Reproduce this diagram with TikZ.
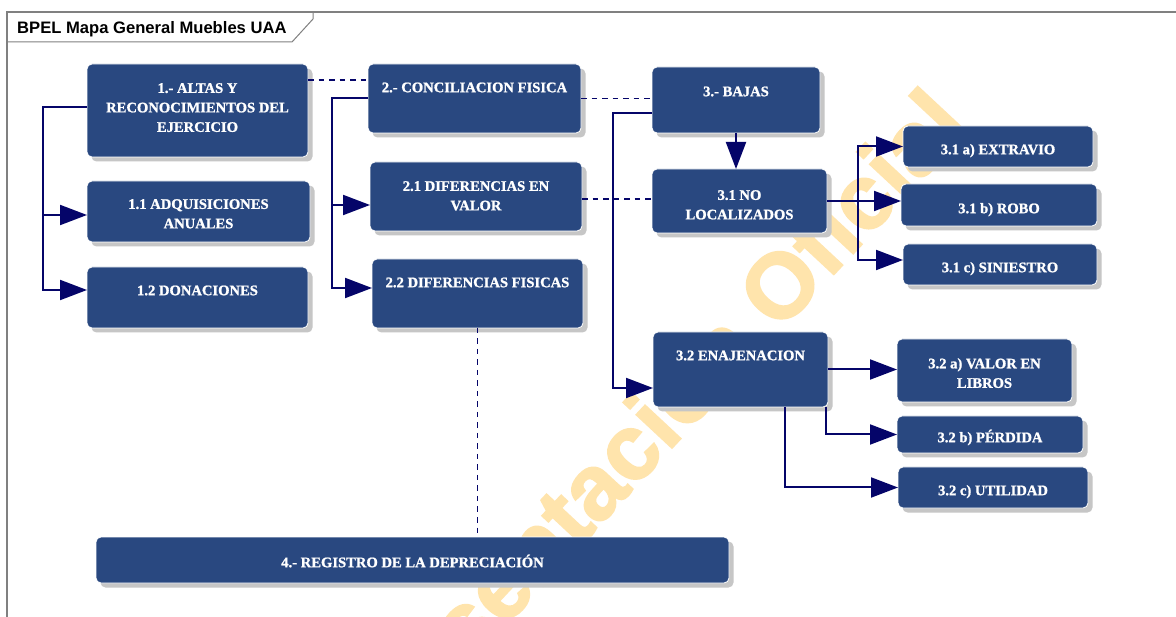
\documentclass[tikz,border=0pt]{standalone}
\usepackage{fontspec}
\setmainfont{Liberation Serif}
\newfontfamily\boxfont{Liberation Serif}[BoldFeatures={FakeBold=1.2}]
\newfontfamily\titlefont{Liberation Sans}
\newfontfamily\wmfont{Liberation Sans}[BoldFeatures={FakeBold=2}]
\usetikzlibrary{arrows.meta,shadows,calc}
\definecolor{boxblue}{RGB}{41,72,128}
\definecolor{navy}{RGB}{5,5,105}
\definecolor{wmorange}{RGB}{255,228,172}
\definecolor{framegray}{RGB}{128,128,128}
\tikzset{
 ubox/.style={draw=white, line width=0.8pt, fill=boxblue, rounded corners=5pt, outer sep=0pt, inner sep=0pt,
   drop shadow={shadow xshift=4.5pt, shadow yshift=-4.5pt, fill=gray!45, opacity=1}},
 utext/.style={anchor=north, inner sep=0pt, text=white, align=center,
   font=\boxfont\fontsize{14.6}{19.5}\selectfont\bfseries, execute at begin node={\rule{0pt}{14pt}}},
 conn/.style={draw=navy, line width=2pt},
 arr/.style={-{Triangle[length=27pt,width=20pt]}},
 link/.style={draw=navy, line width=1.9pt, dash pattern=on 5.5pt off 5pt},
}
\newcommand\ubx[7]{%
  \node[ubox, minimum width={#4-#2}, minimum height={#5-#3}] (#1) at ({(#2+#4)/2},{(#3+#5)/2}) {};
  \node[utext] (#1t) at ({(#2+#4)/2},{#6-14}) {#7};
}
\begin{document}
\begin{tikzpicture}[x=1pt,y=-1pt]
\useasboundingbox (0,0) rectangle (1176,617);
\fill[white] (0,0) rectangle (1176,617);
% watermark
\begin{scope}
\clip (0,0) rectangle (1176,617);
\node[rotate=47, text=wmorange, inner sep=0pt, font=\wmfont\fontsize{92}{92}\selectfont\bfseries] (wm) at (645,428) {Presentación Oficial};
\end{scope}
% frame
\draw[framegray, line width=1.3pt] (1176,12) -- (7,12) -- (7,617);
\draw[framegray, line width=1pt] (7,42) -- (292,42) -- (313,19) -- (313,12);
\node[anchor=base west, inner sep=0pt, font=\titlefont\fontsize{16.6}{18}\selectfont\bfseries] (title) at (17,33.3) {BPEL Mapa General Muebles UAA};
% boxes
\ubx{b1}{87}{64}{308}{157}{97}{1.- ALTAS Y\\RECONOCIMIENTOS DEL\\EJERCICIO}
\ubx{b11}{87}{181}{310}{242}{213}{1.1 ADQUISICIONES\\ANUALES}
\ubx{b12}{87}{267}{308}{328}{295}{1.2 DONACIONES}
\ubx{b2}{368}{64}{581}{133}{92}{2.- CONCILIACION FISICA}
\ubx{b21}{370}{162}{582}{231}{195}{2.1 DIFERENCIAS EN\\VALOR}
\ubx{b22}{372}{259}{583}{328}{287}{2.2 DIFERENCIAS FISICAS}
\ubx{b3}{652}{67}{820}{133}{96}{3.- BAJAS}
\ubx{b31}{652}{169}{827}{233}{204}{3.1 NO\\LOCALIZADOS}
\ubx{b31a}{903}{126}{1093}{167}{154}{3.1 a) EXTRAVIO}
\ubx{b31b}{901}{184}{1097}{226}{213}{3.1 b) ROBO}
\ubx{b31c}{903}{244}{1097}{285}{272}{3.1 c) SINIESTRO}
\ubx{b32}{653}{332}{828}{407}{360}{3.2 ENAJENACION}
\ubx{b32a}{897}{339}{1072}{402}{372}{3.2 a) VALOR EN\\LIBROS}
\ubx{b32b}{897}{416}{1083}{453}{442}{3.2 b) PÉRDIDA}
\ubx{b32c}{898}{467}{1088}{508}{495}{3.2 c) UTILIDAD}
\ubx{b4}{96}{537}{729}{583}{567}{4.- REGISTRO DE LA DEPRECIACIÓN}
% connectors
\coordinate (s1) at ([yshift=3.5pt]b1.west);
\coordinate (t11) at ([yshift=-3.5pt]b11.west);
\coordinate (t12) at ([yshift=7.5pt]b12.west);
\draw[conn,arr] (s1) -- ++(-44,0) coordinate (j1) |- (t12);
\draw[conn,arr] (j1 |- t11) -- (t11);
\coordinate (s2) at (b2.west);
\coordinate (t21) at ([yshift=-8.5pt]b21.west);
\coordinate (t22) at ([yshift=5.5pt]b22.west);
\draw[conn,arr] (s2) -- ++(-36,0) coordinate (j2) |- (t22);
\draw[conn,arr] (j2 |- t21) -- (t21);
\coordinate (s3) at ([yshift=-13pt]b3.west);
\coordinate (t32) at ([yshift=-18.5pt]b32.west);
\draw[conn,arr] (s3) -- ++(-39,0) |- (t32);
\draw[conn,arr] (b3.south) -- (b3.south |- b31.north);
\draw[conn,arr] (b31.east) -- (b31.east -| b31b.west);
\coordinate (j4) at ([xshift=31pt]b31.east);
\coordinate (t31c) at ([yshift=4.5pt]b31c.west);
\draw[conn,arr] (j4) |- (b31a.west);
\draw[conn,arr] (j4) |- (t31c);
\draw[conn,arr] (b32.east) -- (b32.east -| b32a.west);
\draw[conn,arr] ([xshift=-2pt]b32.south east) |- (b32b.west);
\draw[conn,arr] ([xshift=44.5pt]b32.south) |- (b32c.west);
% dashed links
\coordinate (d1) at ([yshift=30.5pt]b1.east);
\draw[link] (d1) -- (d1 -| b2.west);
\draw[link] (b2.east) -- (b2.east -| b3.west);
\coordinate (d3) at ([yshift=-2.5pt]b21.east);
\draw[link] (d3) -- (d3 -| b31.west);
\draw[link] (b22.south) -- (b22.south |- b4.north);
\end{tikzpicture}
\end{document}
